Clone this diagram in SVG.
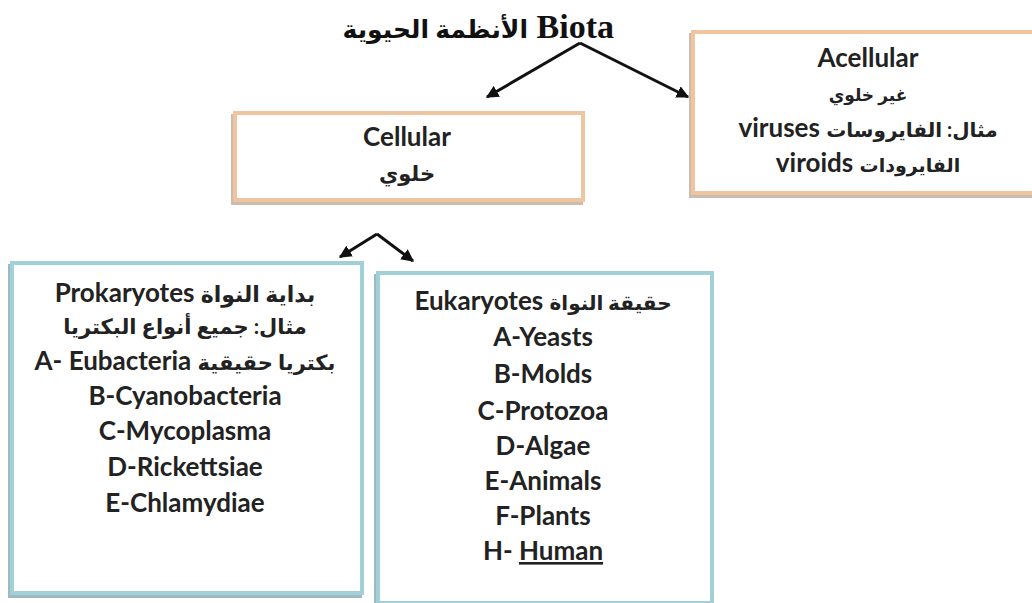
<svg xmlns="http://www.w3.org/2000/svg" width="1032" height="603" viewBox="0 0 1032 603">
<defs>
<marker id="ah" viewBox="0 0 10 10" refX="9" refY="5" markerWidth="4.2" markerHeight="4.2" orient="auto" markerUnits="strokeWidth">
<path d="M0,0 L10,5 L0,10 z" fill="#111"/>
</marker>
</defs>
<style>
.t{font-family:Lato,"DejaVu Sans",sans-serif;font-weight:bold;font-size:26px;fill:#222;text-anchor:middle}
.ar{font-size:20px}
.ob{fill:#fff;stroke:#efc49e;stroke-width:4}
.os{fill:none;stroke:#c9bcb0;stroke-width:4}
.bb{fill:#fff;stroke:#a2d0d8;stroke-width:4}
.bs{fill:none;stroke:#9fb9c0;stroke-width:4}
.c{stroke:#111;stroke-width:3;fill:none;marker-end:url(#ah)}
</style>
<rect width="1032" height="603" fill="#fff"/>
<g id="title">
<text x="614" y="38" font-family="'Liberation Serif','DejaVu Sans',serif" font-weight="bold" font-size="34" fill="#111" text-anchor="end"><tspan font-size="25">الأنظمة الحيوية</tspan> Biota</text>
</g>
<g id="connectors">
<path class="c" d="M580,43 L487,97"/>
<path class="c" d="M580,43 L688,97"/>
<path class="c" d="M377,234 L340,257"/>
<path class="c" d="M377,234 L413,261"/>
</g>
<g id="cellular">
<rect class="os" x="233" y="116" width="348" height="87"/>
<rect class="ob" x="235" y="113" width="348" height="87"/>
<text class="t" x="407" y="146">Cellular</text>
<text class="t" x="407" y="181" style="font-size:21px">خلوي</text>
</g>
<g id="acellular">
<rect class="os" x="691" y="35" width="360" height="161"/>
<rect class="ob" x="693" y="32" width="360" height="161"/>
<text class="t" x="868" y="67">Acellular</text>
<text class="t" x="868" y="101" style="font-size:17px">غير خلوي</text>
<text class="t" x="868" y="137">viruses <tspan class="ar">مثال: الفايروسات</tspan></text>
<text class="t" x="868" y="172">viroids <tspan font-size="19">الفايرودات</tspan></text>
</g>
<g id="prokaryotes">
<rect class="bs" x="10" y="266" width="350" height="330"/>
<rect class="bb" x="12" y="263" width="350" height="330"/>
<text class="t" x="185" y="302">Prokaryotes <tspan font-size="22">بداية النواة</tspan></text>
<text class="t" x="185" y="334" style="font-size:21px">مثال: جميع أنواع البكتريا</text>
<text class="t" x="185" y="370">A- Eubacteria  <tspan font-size="21">بكتريا حقيقية</tspan></text>
<text class="t" x="185" y="405">B-Cyanobacteria</text>
<text class="t" x="185" y="440">C-Mycoplasma</text>
<text class="t" x="185" y="476">D-Rickettsiae</text>
<text class="t" x="185" y="512">E-Chlamydiae</text>
</g>
<g id="eukaryotes">
<rect class="bs" x="376" y="276" width="334" height="330"/>
<rect class="bb" x="378" y="273" width="334" height="330"/>
<text class="t" x="543" y="310">Eukaryotes <tspan class="ar">حقيقة النواة</tspan></text>
<text class="t" x="543" y="346">A-Yeasts</text>
<text class="t" x="543" y="383">B-Molds</text>
<text class="t" x="543" y="420">C-Protozoa</text>
<text class="t" x="543" y="455">D-Algae</text>
<text class="t" x="543" y="490">E-Animals</text>
<text class="t" x="543" y="525">F-Plants</text>
<text class="t" x="543" y="560">H- <tspan text-decoration="underline">Human</tspan></text>
</g>
</svg>
